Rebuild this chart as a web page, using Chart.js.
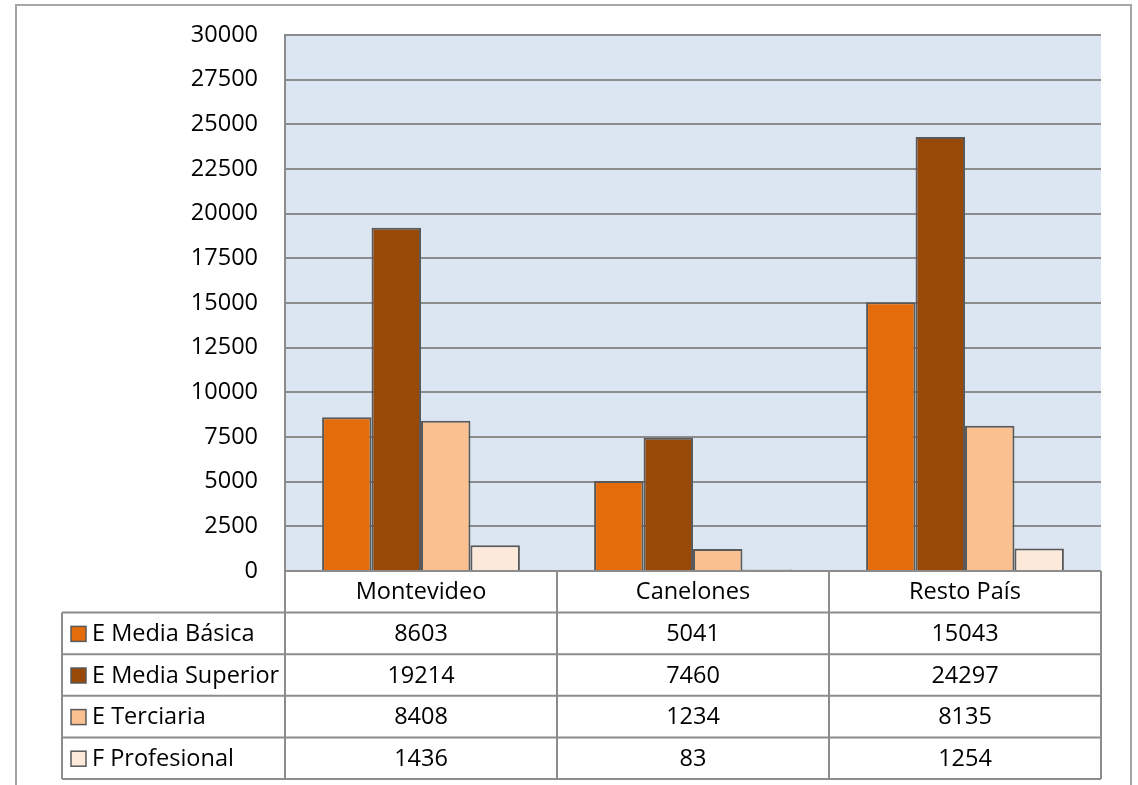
<!DOCTYPE html>
<html>
<head>
<meta charset="utf-8">
<script src="https://cdn.jsdelivr.net/npm/chart.js@4/dist/chart.umd.min.js"></script>
<style>
  html, body { margin: 0; padding: 0; background: #fff; }
  #wrap { position: relative; width: 1138px; height: 785px; }
  canvas { display: block; }
</style>
</head>
<body>
<div id="wrap"><canvas id="c" width="1138" height="785"></canvas></div>
<script>
const categories = ["Montevideo", "Canelones", "Resto País"];
const seriesNames = ["E Media Básica", "E Media Superior", "E Terciaria", "F Profesional"];
const mediaBasica = [8603, 5041, 15043];
const mediaSuperior = [19214, 7460, 24297];
const terciaria = [8408, 1234, 8135];
const profesional = [1436, 83, 1254];
const seriesColors = ["#E46C0A", "#984807", "#FAC090", "#FDE9D9"];
const yMin = 0, yMax = 30000, yStep = 2500;

const seriesValues = [mediaBasica, mediaSuperior, terciaria, profesional];
const FONT = "'Open Sans', 'Noto Sans', sans-serif";
const FS = 23.5;

const bgPlugin = {
  id: 'plotBg',
  beforeDraw(chart) {
    const { ctx, chartArea: a } = chart;
    ctx.save();
    ctx.fillStyle = '#FFFFFF';
    ctx.fillRect(0, 0, chart.width, chart.height);
    ctx.fillStyle = '#DCE6F2';
    ctx.fillRect(a.left, a.top, a.right - a.left, a.bottom - a.top);
    ctx.strokeStyle = '#A6A6A6';
    ctx.lineWidth = 2;
    ctx.strokeRect(16, 5, 1115, 800);
    ctx.restore();
  }
};

const tablePlugin = {
  id: 'dataTable',
  afterDraw(chart) {
    const { ctx, chartArea: a } = chart;
    const xs = chart.scales.x;
    const n = categories.length;
    const colW = (a.right - a.left) / n;
    const rowH = 41.6;
    const top = a.bottom;
    const labelLeft = 62;
    ctx.save();
    ctx.strokeStyle = '#8C8C8C';
    ctx.lineWidth = 2;
    ctx.beginPath();
    ctx.moveTo(a.left, top + rowH); ctx.lineTo(a.right, top + rowH);
    for (let i = 0; i <= n; i++) {
      const x = a.left + i * colW;
      ctx.moveTo(x, top); ctx.lineTo(x, top + rowH * (seriesNames.length + 1));
    }
    for (let r = 1; r <= seriesNames.length + 1; r++) {
      const y = top + rowH * r;
      ctx.moveTo(labelLeft, y); ctx.lineTo(a.right, y);
    }
    ctx.moveTo(labelLeft, top + rowH); ctx.lineTo(labelLeft, top + rowH * (seriesNames.length + 1));
    ctx.stroke();

    ctx.fillStyle = '#000';
    ctx.font = FS + 'px ' + FONT;
    ctx.textBaseline = 'middle';
    ctx.textAlign = 'center';
    categories.forEach((c, i) => {
      ctx.fillText(c, xs.getPixelForValue(i), top + rowH / 2 + 1);
    });
    seriesNames.forEach((s, r) => {
      const yc = top + rowH * (r + 1) + rowH / 2 + 1;
      ctx.textAlign = 'center';
      seriesValues[r].forEach((v, i) => {
        ctx.fillText(String(v), xs.getPixelForValue(i), yc);
      });
      ctx.fillStyle = seriesColors[r];
      ctx.fillRect(71, yc - 8, 15, 15);
      ctx.strokeStyle = '#595959';
      ctx.lineWidth = 1.5;
      ctx.strokeRect(71, yc - 8, 15, 15);
      ctx.fillStyle = '#000';
      ctx.textAlign = 'left';
      ctx.fillText(s, 92, yc);
    });
    ctx.restore();
  }
};

new Chart(document.getElementById('c'), {
  type: 'bar',
  data: {
    labels: categories,
    datasets: seriesNames.map((name, i) => ({
      label: name,
      data: seriesValues[i],
      backgroundColor: seriesColors[i],
      borderColor: '#595959',
      borderWidth: 2,
      categoryPercentage: 4 / 5.5,
      barPercentage: 1.0
    }))
  },
  options: {
    responsive: false,
    animation: false,
    devicePixelRatio: 1,
    layout: { padding: { left: 0, top: 35, right: 37, bottom: 214 } },
    plugins: { legend: { display: false }, tooltip: { enabled: false }, title: { display: false } },
    scales: {
      x: { display: false },
      y: {
        min: yMin, max: yMax,
        afterFit(scale) { scale.width = 285; scale.paddingTop = 0; scale.paddingBottom = 0; },
        border: { display: true, color: '#8C8C8C', width: 2 },
        grid: { color: '#8C8C8C', lineWidth: 2, drawTicks: false },
        ticks: {
          stepSize: yStep,
          padding: 27,
          color: '#000',
          font: { family: FONT, size: FS },
          callback: (v) => String(v)
        }
      }
    }
  },
  plugins: [bgPlugin, tablePlugin]
});
</script>
</body>
</html>
